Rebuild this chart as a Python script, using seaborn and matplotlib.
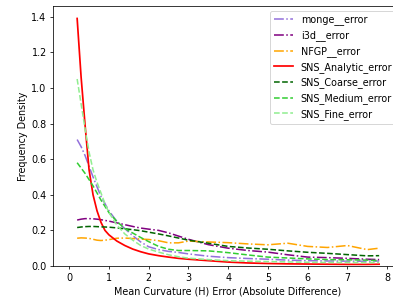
import pandas as pd
import matplotlib
matplotlib.use('Agg')
import matplotlib.pyplot as plt
import seaborn as sns

# Valores (densidade x erro de curvatura média)
x_vals = [0.2, 0.3, 0.4, 0.5, 0.6, 0.7, 0.8, 0.9, 1.0, 1.2, 1.4, 1.6, 1.8, 2.0,
          2.25, 2.5, 2.75, 3.0, 3.5, 4.0, 4.5, 5.0, 5.5, 6.0, 6.5, 7.0, 7.5, 7.8]

monge_error = [0.71, 0.67, 0.62, 0.56, 0.50, 0.445, 0.39, 0.35, 0.31, 0.25, 0.21, 0.17,
               0.135, 0.108, 0.092, 0.082, 0.076, 0.068, 0.055, 0.047, 0.042, 0.038,
               0.033, 0.030, 0.028, 0.027, 0.027, 0.028]
i3d_error = [0.258, 0.263, 0.266, 0.266, 0.265, 0.263, 0.260, 0.256, 0.252, 0.242,
             0.232, 0.222, 0.213, 0.207, 0.200, 0.186, 0.168, 0.150, 0.120, 0.100,
             0.087, 0.078, 0.063, 0.050, 0.047, 0.043, 0.038, 0.036]
nfgp_error = [0.156, 0.158, 0.157, 0.155, 0.150, 0.145, 0.143, 0.145, 0.148, 0.156,
              0.157, 0.154, 0.151, 0.149, 0.142, 0.130, 0.130, 0.140, 0.135, 0.131,
              0.124, 0.119, 0.128, 0.110, 0.104, 0.115, 0.092, 0.100]
sns_analytic = [1.39, 1.06, 0.79, 0.54, 0.40, 0.31, 0.245, 0.20, 0.175, 0.14, 0.115,
                0.095, 0.080, 0.068, 0.058, 0.050, 0.043, 0.038, 0.030, 0.022, 0.017,
                0.014, 0.012, 0.011, 0.010, 0.009, 0.009, 0.010]
sns_coarse = [0.216, 0.219, 0.221, 0.222, 0.222, 0.221, 0.220, 0.219, 0.218, 0.214,
              0.209, 0.204, 0.198, 0.190, 0.180, 0.169, 0.157, 0.145, 0.128, 0.110,
              0.101, 0.094, 0.085, 0.077, 0.071, 0.064, 0.057, 0.058]
sns_medium = [0.58, 0.55, 0.52, 0.485, 0.45, 0.41, 0.37, 0.335, 0.30, 0.25, 0.21, 0.185,
              0.16, 0.137, 0.110, 0.094, 0.087, 0.087, 0.085, 0.075, 0.062, 0.050,
              0.045, 0.040, 0.036, 0.035, 0.033, 0.030]
sns_fine = [1.05, 0.91, 0.77, 0.64, 0.54, 0.47, 0.41, 0.35, 0.30, 0.23, 0.18, 0.145,
            0.115, 0.095, 0.078, 0.063, 0.052, 0.044, 0.036, 0.030, 0.027, 0.025,
            0.023, 0.021, 0.020, 0.020, 0.019, 0.020]

series_names = ['monge__error', 'i3d__error', 'NFGP__error', 'SNS_Analytic_error',
                'SNS_Coarse_error', 'SNS_Medium_error', 'SNS_Fine_error']
series_values = [monge_error, i3d_error, nfgp_error, sns_analytic,
                 sns_coarse, sns_medium, sns_fine]
colors = ['mediumpurple', 'purple', 'orange', 'red', 'darkgreen', 'limegreen', 'lightgreen']
styles = ['-.', '-.', '-.', '-', '--', '--', '--']

dpi = 69
fig = plt.figure(figsize=(393 / dpi, 301 / dpi), dpi=dpi)
ax = fig.add_axes([53.3 / 393, 35 / 301, (401 - 53.3) / 393, (295 - 35) / 301])

for name, vals, col, ls in zip(series_names, series_values, colors, styles):
    df = pd.DataFrame({'x': x_vals, 'y': vals})
    sns.lineplot(data=df, x='x', y='y', ax=ax, color=col, linestyle=ls,
                 linewidth=1.6 if ls != '-' else 1.8, label=name)

ax.set_xlim(-0.4, 8.35)
ax.set_ylim(0, 1.46)
ax.set_xticks(range(0, 9))
ax.set_xlabel('Mean Curvature (H) Error (Absolute Difference)')
ax.set_ylabel('Frequency Density')
ax.legend(loc='upper right')

fig.savefig('out.png', dpi=dpi)
